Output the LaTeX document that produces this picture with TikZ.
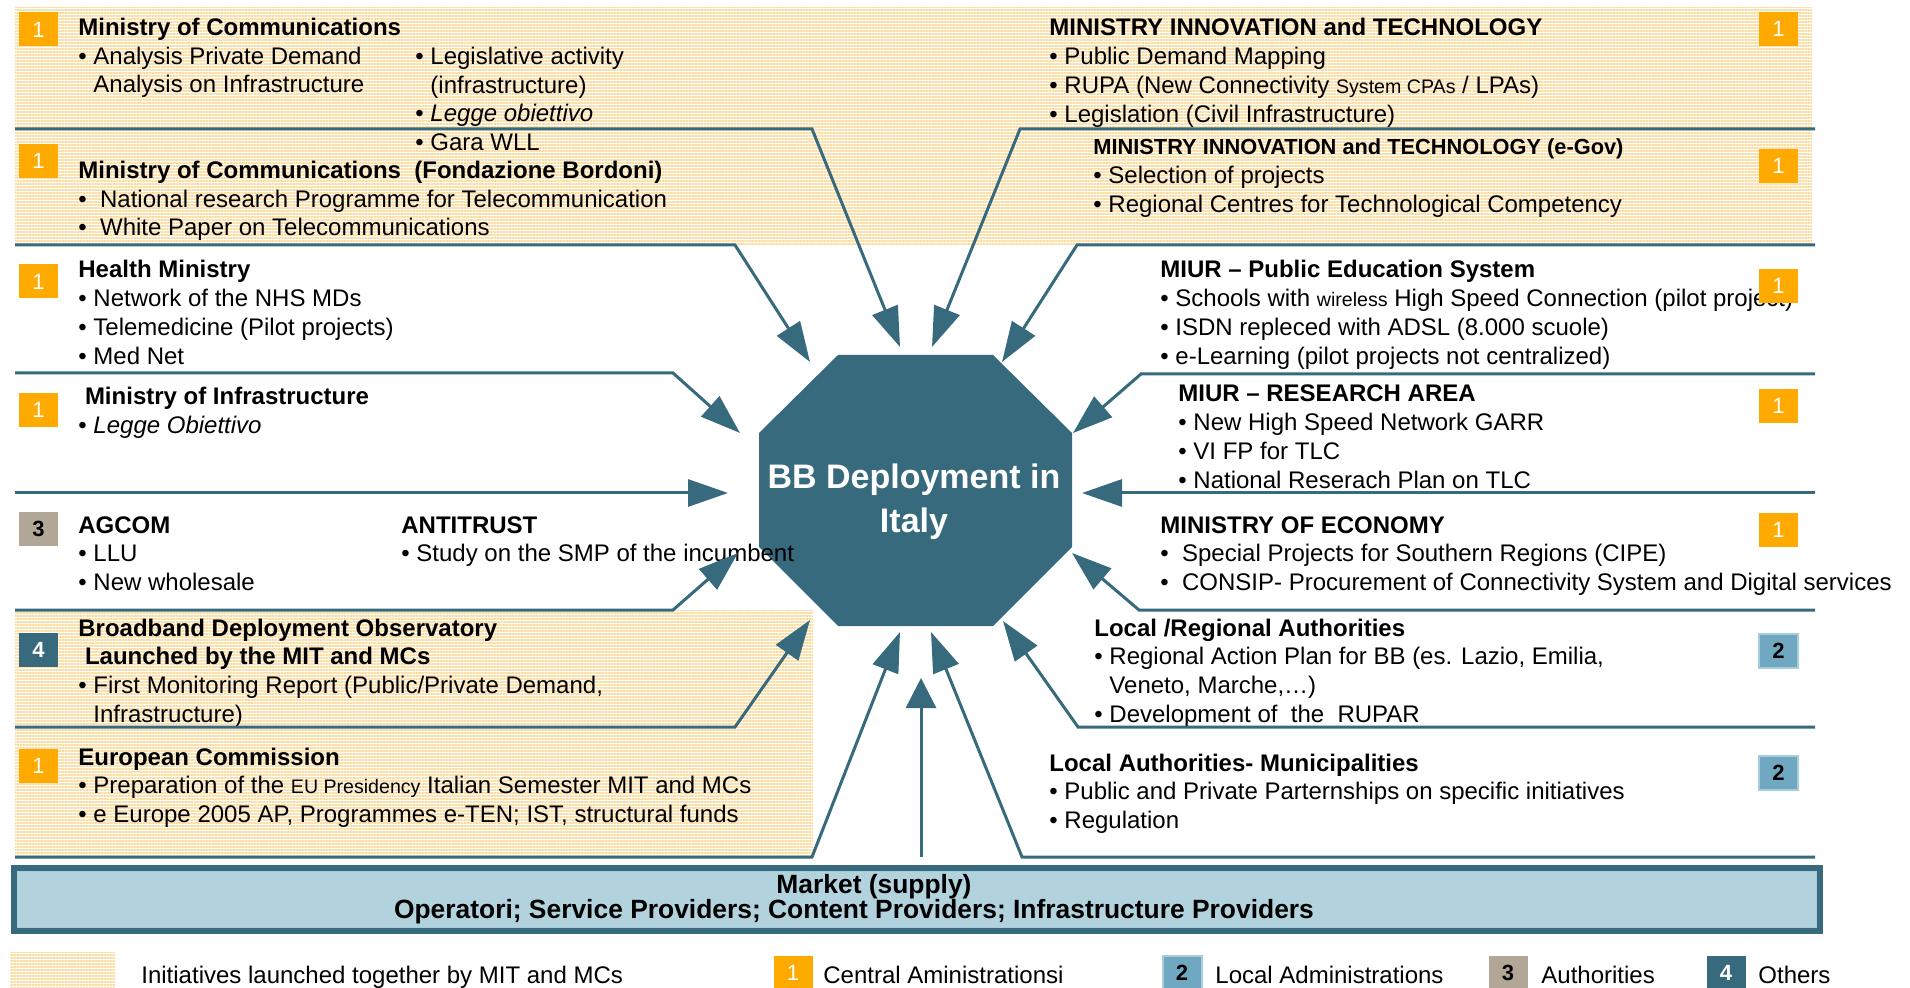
\documentclass[tikz,border=0pt]{standalone}
\usepackage{fontspec}
\setmainfont{Liberation Sans}
\usetikzlibrary{arrows.meta,patterns.meta}
\definecolor{bbteal}{RGB}{55,106,125}
\definecolor{mcorange}{RGB}{255,170,0}
\definecolor{locblue}{RGB}{111,168,192}
\definecolor{locrim}{RGB}{168,205,220}
\definecolor{authtan}{RGB}{178,166,151}
\definecolor{mktblue}{RGB}{178,210,222}
\definecolor{hatchline}{RGB}{252,222,165}
\newcommand{\smtxt}[1]{{\fontsize{9.8pt}{14.35pt}\selectfont #1}}
\begin{document}
\begin{tikzpicture}[x=0.5pt,y=0.5pt,yscale=-1,xscale=1,
  feed/.style={draw=bbteal, line width=1.5pt, -{Triangle[length=20pt,width=13.5pt]}},
  hatch/.style={pattern={Lines[angle=0,distance=1.5pt,line width=0.75pt]}, pattern color=hatchline},
  txt/.style={anchor=base west, inner sep=0pt, align=left, font=\fontsize{12pt}{14.35pt}\selectfont},
  badge/.style={minimum width=19.5pt, minimum height=17pt, inner sep=0pt, font=\fontsize{11pt}{11pt}\selectfont},
  centralbadge/.style={badge, fill=mcorange, text=white},
  localbadge/.style={badge, fill=locblue, draw=locrim, line width=1pt, text=black, font=\fontsize{11pt}{11pt}\selectfont\bfseries},
  authbadge/.style={badge, fill=authtan, text=black, font=\fontsize{11pt}{11pt}\selectfont\bfseries},
  otherbadge/.style={badge, fill=bbteal, text=white, font=\fontsize{11pt}{11pt}\selectfont\bfseries}]
\useasboundingbox (0,0) rectangle (1910,988);

%Shape: Rectangle (hatched areas)
\fill [hatch] (15,8) rectangle (1812,245) ;
\fill [hatch] (15,610) rectangle (813,857) ;

%Shape: Polygon
\fill [bbteal] (759,433) -- (838,355) -- (993,355) -- (1072,433) -- (1072,547) -- (993,626) -- (838,626) -- (759,547) -- cycle ;

% Text Node
\draw (914,532) node (bb) [anchor=base][inner sep=0pt][align=center][text=white][font=\fontsize{17pt}{21.5pt}\selectfont\bfseries] {BB Deployment in\\Italy};

% Text Node
\draw (78,92.9) node (tmc) [txt] {\textbf{Ministry of Communications}\\\textbullet\ Analysis Private Demand\\\hphantom{\textbullet\ }Analysis on Infrastructure};
% Text Node
\draw (415,150.6) node (tmcleg) [txt] {\textbullet\ Legislative activity\\\hphantom{\textbullet\ }(infrastructure)\\\textbullet\ \textit{Legge obiettivo}\\\textbullet\ Gara WLL};
% Text Node
\draw (78,235.9) node (tfb) [txt] {\textbf{Ministry of Communications\ \ (Fondazione Bordoni)}\\\textbullet\ \ National research Programme for Telecommunication\\\textbullet\ \ White Paper on Telecommunications};
% Text Node
\draw (78,364.1) node (thm) [txt] {\textbf{Health Ministry}\\\textbullet\ Network of the NHS MDs\\\textbullet\ Telemedicine (Pilot projects)\\\textbullet\ Med Net};
% Text Node
\draw (78,433.7) node (tmi) [txt] {\hspace*{3.3pt}\textbf{Ministry of Infrastructure}\\\textbullet\ \textit{Legge Obiettivo}};
% Text Node
\draw (78,590.4) node (tag) [txt] {\textbf{AGCOM}\\\textbullet\ LLU\\\textbullet\ New wholesale};
% Text Node
\draw (401,561.7) node (tanti) [txt] {\textbf{ANTITRUST}\\\textbullet\ Study on the SMP of the incumbent};
% Text Node
\draw (78,722.1) node (tobs) [txt] {\textbf{Broadband Deployment Observatory}\\\hspace*{3.3pt}\textbf{Launched by the MIT and MCs}\\\textbullet\ First Monitoring Report (Public/Private Demand,\\\hphantom{\textbullet\ }Infrastructure)};
% Text Node
\draw (78,822.4) node (tec) [txt] {\textbf{European Commission}\\\textbullet\ Preparation of the \smtxt{EU Presidency} Italian Semester MIT and MCs\\\textbullet\ e Europe 2005 AP, Programmes e-TEN; IST, structural funds};

% Text Node
\draw (1049,122.1) node (tmit) [txt] {\textbf{MINISTRY INNOVATION and TECHNOLOGY}\\\textbullet\ Public Demand Mapping\\\textbullet\ RUPA (New Connectivity \smtxt{System CPAs} / LPAs)\\\textbullet\ Legislation (Civil Infrastructure)};
% Text Node
\draw (1093,212.4) node (tegov) [txt] {{\fontsize{10.9pt}{14.35pt}\selectfont\bfseries MINISTRY INNOVATION and TECHNOLOGY (e-Gov)}\\\textbullet\ Selection of projects\\\textbullet\ Regional Centres for Technological Competency};
% Text Node
\draw (1160,364.1) node (tmiurp) [txt] {\textbf{MIUR – Public Education System}\\\textbullet\ Schools with \smtxt{wireless} High Speed Connection (pilot project)\\\textbullet\ ISDN repleced with ADSL (8.000 scuole)\\\textbullet\ e-Learning (pilot projects not centralized)};
% Text Node
\draw (1178,488.1) node (tmiurr) [txt] {\textbf{MIUR – RESEARCH AREA}\\\textbullet\ New High Speed Network GARR\\\textbullet\ VI FP for TLC\\\textbullet\ National Reserach Plan on TLC};
% Text Node
\draw (1160,590.4) node (teco) [txt] {\textbf{MINISTRY OF ECONOMY}\\\textbullet\ \ Special Projects for Southern Regions (CIPE)\\\textbullet\ \ CONSIP- Procurement of Connectivity System and Digital services};
% Text Node
\draw (1094,722.1) node (tlra) [txt] {\textbf{Local /Regional Authorities}\\\textbullet\ Regional Action Plan for BB (es. Lazio, Emilia,\\\hphantom{\textbullet\ }Veneto, Marche,…)\\\textbullet\ Development of\ \ the\ \ RUPAR};
% Text Node
\draw (1049,828.4) node (tlam) [txt] {\textbf{Local Authorities- Municipalities}\\\textbullet\ Public and Private Parternships on specific initiatives\\\textbullet\ Regulation};

%Straight Lines (left side)
\coordinate (a1s) at (15,129) ; \coordinate (a1k) at (812,129) ; \coordinate (a1t) at (900,347) ;
\coordinate (a2s) at (15,245) ; \coordinate (a2k) at (735,245) ; \coordinate (a2t) at (810,362) ;
\coordinate (a3s) at (15,373) ; \coordinate (a3k) at (673,373) ; \coordinate (a3t) at (740,433) ;
\coordinate (a4s) at (15,493) ; \coordinate (a4t) at (728,493) ;
\coordinate (a5s) at (15,610) ; \coordinate (a5k) at (673,610) ; \coordinate (a5t) at (738,553) ;
\coordinate (a6s) at (15,727) ; \coordinate (a6k) at (735,727) ; \coordinate (a6t) at (810,620) ;
\coordinate (a7s) at (15,857) ; \coordinate (a7k) at (812,857) ; \coordinate (a7t) at (900,632) ;
\draw [feed] (a1s) -- (a1k) -- (a1t) ;
\draw [feed] (a2s) -- (a2k) -- (a2t) ;
\draw [feed] (a3s) -- (a3k) -- (a3t) ;
\draw [feed] (a4s) -- (a4t) ;
\draw [feed] (a5s) -- (a5k) -- (a5t) ;
\draw [feed] (a6s) -- (a6k) -- (a6t) ;
\draw [feed] (a7s) -- (a7k) -- (a7t) ;

%Straight Lines (right side)
\coordinate (b1s) at (1815,129) ; \coordinate (b1k) at (1020,129) ; \coordinate (b1t) at (932,347) ;
\coordinate (b2s) at (1815,245) ; \coordinate (b2k) at (1077,245) ; \coordinate (b2t) at (1002,362) ;
\coordinate (b3s) at (1815,374) ; \coordinate (b3k) at (1141,374) ; \coordinate (b3t) at (1073,433) ;
\coordinate (b4s) at (1815,493) ; \coordinate (b4t) at (1082,493) ;
\coordinate (b5s) at (1815,610) ; \coordinate (b5k) at (1139,610) ; \coordinate (b5t) at (1072,553) ;
\coordinate (b6s) at (1815,727) ; \coordinate (b6k) at (1078,727) ; \coordinate (b6t) at (1003,621) ;
\coordinate (b7s) at (1815,857) ; \coordinate (b7k) at (1022,857) ; \coordinate (b7t) at (931,632) ;
\draw [feed] (b1s) -- (b1k) -- (b1t) ;
\draw [feed] (b2s) -- (b2k) -- (b2t) ;
\draw [feed] (b3s) -- (b3k) -- (b3t) ;
\draw [feed] (b4s) -- (b4t) ;
\draw [feed] (b5s) -- (b5k) -- (b5t) ;
\draw [feed] (b6s) -- (b6k) -- (b6t) ;
\draw [feed] (b7s) -- (b7k) -- (b7t) ;

%Straight Lines (market)
\coordinate (ms) at (921,857) ; \coordinate (mt) at (921,678) ;
\draw [feed, -{Triangle[length=15pt,width=15pt]}] (ms) -- (mt) ;

%Shape: Rectangle (badges)
\draw (38.5,29.5) node (bmc) [centralbadge] {1};
\draw (38.5,161) node (bfb) [centralbadge] {1};
\draw (38.5,281.5) node (bhm) [centralbadge] {1};
\draw (38.5,410) node (bmi) [centralbadge] {1};
\draw (38.5,529) node (bag) [authbadge] {3};
\draw (38.5,649.5) node (bobs) [otherbadge] {4};
\draw (38.5,766) node (bec) [centralbadge] {1};
\draw (1778.5,29) node (bmit) [centralbadge] {1};
\draw (1778.5,166) node (begov) [centralbadge] {1};
\draw (1778.5,286) node (bmiurp) [centralbadge] {1};
\draw (1778.5,406) node (bmiurr) [centralbadge] {1};
\draw (1778.5,530) node (beco) [centralbadge] {1};
\draw (1778.5,650.5) node (blra) [localbadge] {2};
\draw (1778.5,773) node (blam) [localbadge] {2};

%Shape: Rectangle (market)
\draw [fill=mktblue, draw=bbteal, line width=3pt] (14,868) rectangle (1820,931) ;
\draw [draw=locrim, line width=0.5pt] (17.5,871.5) rectangle (1816.5,927.5) ;
% Text Node
\draw (874,893) node (tmkt) [anchor=base][inner sep=0pt][font=\fontsize{13.2pt}{16pt}\selectfont\bfseries] {Market (supply)};
% Text Node
\draw (854,918) node (tmktsub) [anchor=base][inner sep=0pt][font=\fontsize{13.2pt}{16pt}\selectfont\bfseries] {Operatori; Service Providers; Content Providers; Infrastructure Providers};

%Legend
\fill [hatch] (10,952) rectangle (115,988) ;
\draw (141,983) node (lgtxt) [txt] {Initiatives launched together by MIT and MCs};
\draw (793,973) node (lgc) [centralbadge] {1};
\draw (823,983) node (lgctxt) [txt] {Central Aministrationsi};
\draw (1182,973) node (lgl) [localbadge] {2};
\draw (1215,983) node (lgltxt) [txt] {Local Administrations};
\draw (1508,973) node (lga) [authbadge] {3};
\draw (1541,983) node (lgatxt) [txt] {Authorities};
\draw (1726,973) node (lgo) [otherbadge] {4};
\draw (1758,983) node (lgotxt) [txt] {Others};

\end{tikzpicture}
\end{document}
